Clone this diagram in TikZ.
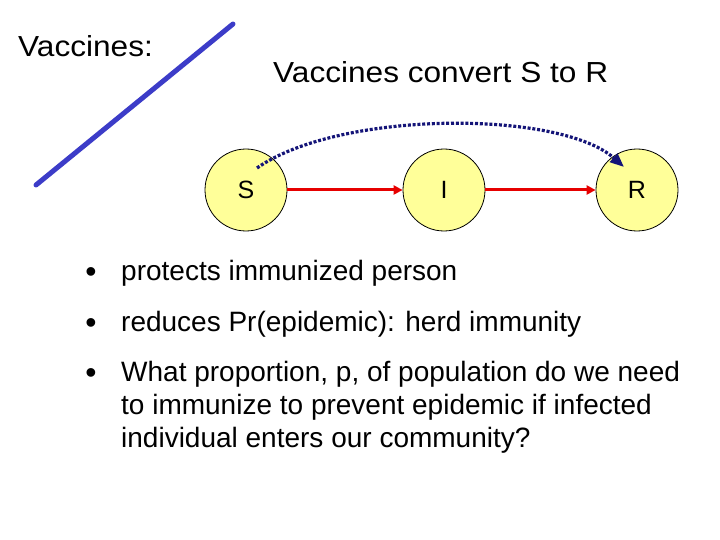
\documentclass[tikz,border=0pt]{standalone}
\usepackage{fontspec}
\setmainfont{Liberation Sans}
\newfontfamily\headfont[FakeStretch=1.09]{Liberation Sans}
\usetikzlibrary{arrows.meta}
\definecolor{circfill}{RGB}{255,255,153}
\definecolor{arrred}{RGB}{230,0,0}
\definecolor{navyarc}{RGB}{20,20,120}
\definecolor{slashblue}{RGB}{60,60,200}
\tikzset{
  state/.style={circle, draw=black, line width=0.8pt, fill=circfill, minimum size=82pt, inner sep=0pt, font=\fontsize{25}{30}\selectfont},
  head/.style={anchor=base west, inner sep=0pt, font=\headfont\fontsize{29}{34}\selectfont},
  btext/.style={anchor=base west, inner sep=0pt, font=\fontsize{28}{33}\selectfont},
  bmark/.style={anchor=base, inner sep=0pt, font=\fontsize{32}{36}\selectfont},
  flow/.style={draw=arrred, line width=3pt, -{Triangle[length=9pt,width=9pt]}},
  vacc/.style={draw=navyarc, line width=3.2pt, dash pattern=on 3pt off 1.8pt, -{Triangle[length=14pt,width=11pt]}}
}
\begin{document}
\begin{tikzpicture}[x=1pt,y=-1pt]
\useasboundingbox (0,0) rectangle (720,540);
\draw[slashblue, line width=5pt, line cap=round] (36,185) -- (233,24);
\node[head] (t1) at (18,57) {Vaccines:};
\node[head] (t2) at (273,83) {Vaccines convert S to R};
\node[state] (S) at (246,190) {S};
\node[state] (I) at (444,190) {I};
\node[state] (R) at (637,190) {R};
\draw[flow] (S) -- (I);
\draw[flow] (I) -- (R);
\coordinate (vs) at (257,168);
\coordinate (ve) at (624,167);
\draw[vacc] (vs) .. controls (340,110) and (560,110) .. (ve);
\node[bmark] (b1) at (91,282) {•};
\node[btext] (l1) at (121,280) {protects immunized person};
\node[bmark] (b2) at (91,333) {•};
\node[btext] (l2) at (121,331) {reduces Pr(epidemic): herd immunity};
\node[bmark] (b3) at (91,383) {•};
\node[btext] (l3) at (121,381) {What proportion, p, of population do we need};
\node[btext] (l4) at (121,414) {to immunize to prevent epidemic if infected};
\node[btext] (l5) at (121,447) {individual enters our community?};
\end{tikzpicture}
\end{document}
